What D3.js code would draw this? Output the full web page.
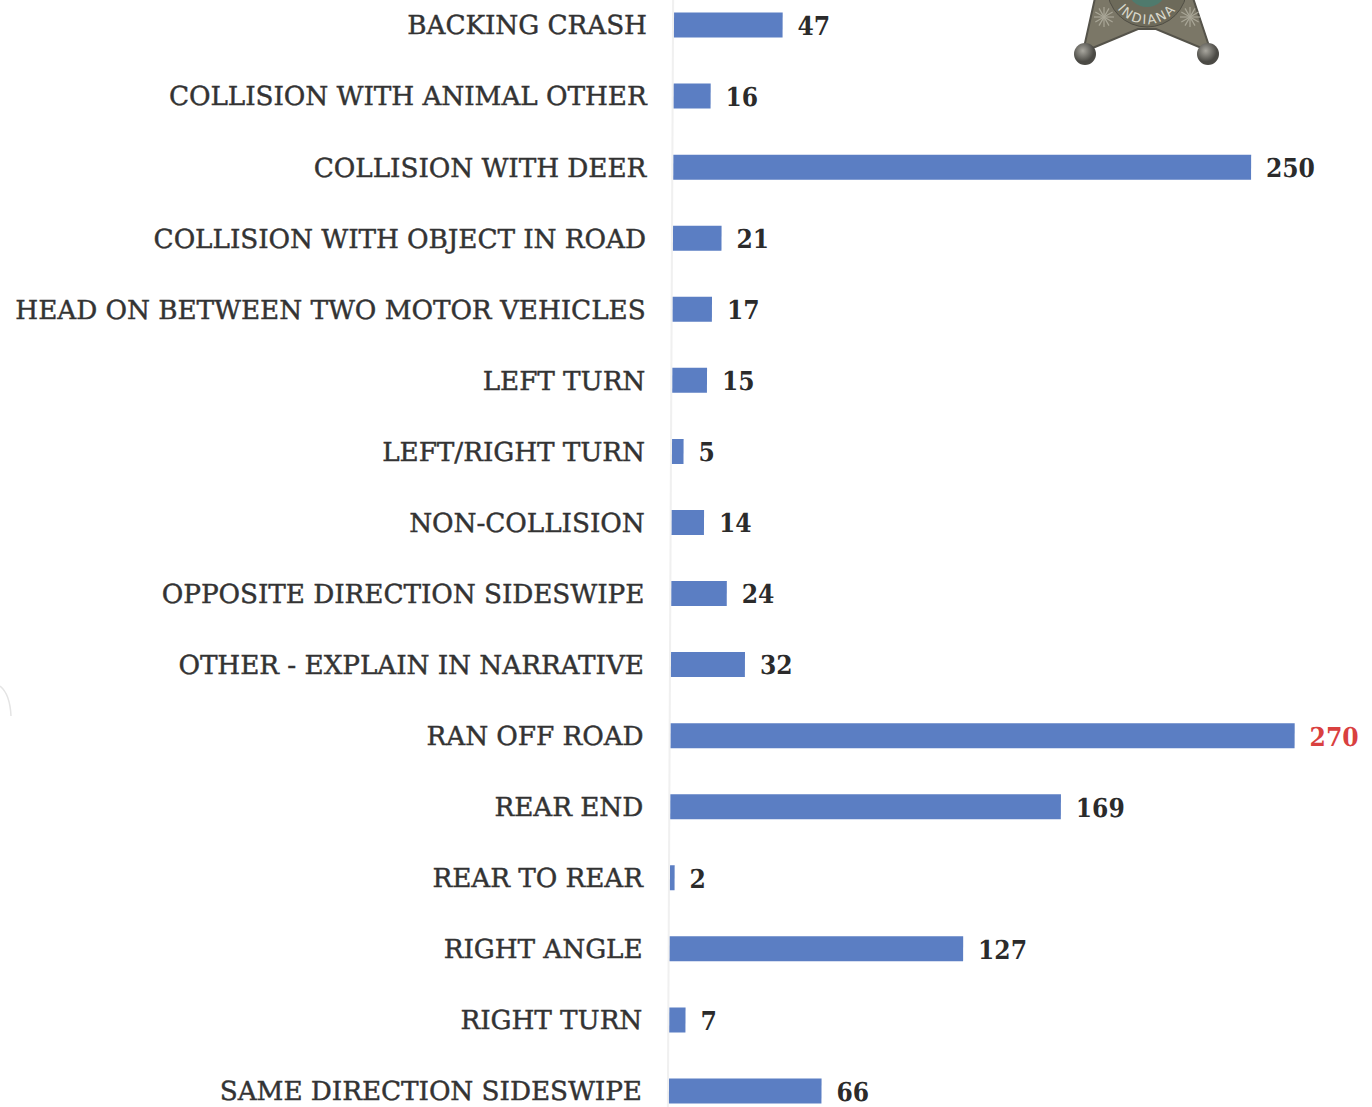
<!DOCTYPE html>
<html>
<head>
<meta charset="utf-8">
<script src="https://cdn.jsdelivr.net/npm/d3@7"></script>
<style>
  html, body { margin: 0; padding: 0; background: #fff; overflow: hidden; }
  .cat text { font-family: "DejaVu Serif", serif; font-size: 26.2px; fill: #333; stroke: #333; stroke-width: 0.45px; }
  .val { font-family: "DejaVu Serif Condensed", "DejaVu Serif", serif; font-weight: bold; font-size: 26px; fill: #2b2b2b; }
</style>
</head>
<body>
<div id="chart"></div>
<script>
const width = 1372;
const height = 1107;

const categories = ['BACKING CRASH', 'COLLISION WITH ANIMAL OTHER', 'COLLISION WITH DEER',
  'COLLISION WITH OBJECT IN ROAD', 'HEAD ON BETWEEN TWO MOTOR VEHICLES', 'LEFT TURN',
  'LEFT/RIGHT TURN', 'NON-COLLISION', 'OPPOSITE DIRECTION SIDESWIPE',
  'OTHER - EXPLAIN IN NARRATIVE', 'RAN OFF ROAD', 'REAR END', 'REAR TO REAR',
  'RIGHT ANGLE', 'RIGHT TURN', 'SAME DIRECTION SIDESWIPE'];
const values = [47, 16, 250, 21, 17, 15, 5, 14, 24, 32, 270, 169, 2, 127, 7, 66];

const color_bar = '#5b7ec3';
const color_max = '#d9403f';

const svg = d3.select('#chart').append('svg')
  .attr('width', width)
  .attr('height', height);

// the scan is a little crooked: rows drift left going down but stay level
const plot = svg.append('g')
  .attr('transform', 'translate(674,25) skewX(-0.27)');

const x = d3.scaleLinear().domain([0, 270]).range([0, 624]);
const y = d3.scalePoint().domain(categories).range([0, 1066]);

plot.append('line')
  .attr('x1', -1).attr('x2', -1)
  .attr('y1', -25).attr('y2', 1090)
  .attr('stroke', '#f0f0f0')
  .attr('stroke-width', 2);

const axis = plot.append('g')
  .attr('class', 'cat')
  .call(d3.axisLeft(y).tickSize(0).tickPadding(27));
axis.select('.domain').remove();
axis.selectAll('text').attr('dy', '0.34em');

plot.selectAll('rect.bar')
  .data(values)
  .enter()
  .append('rect')
  .attr('class', 'bar')
  .attr('x', 0)
  .attr('y', (d, i) => y(categories[i]) - 12.5)
  .attr('width', d => x(d))
  .attr('height', 25)
  .attr('fill', color_bar);

plot.selectAll('text.val')
  .data(values)
  .enter()
  .append('text')
  .attr('class', 'val')
  .attr('x', d => x(d) + 15)
  .attr('y', (d, i) => y(categories[i]))
  .attr('dy', '0.38em')
  .style('fill', d => d === d3.max(values) ? color_max : null)
  .text(d => d);

// faint scan mark on the left edge
svg.append('path')
  .attr('d', 'M0,686 Q10,694 11,716')
  .attr('fill', 'none')
  .attr('stroke', '#e4e4e4')
  .attr('stroke-width', 1.5);

// sheriff badge, only the bottom of it is on the page
const defs = svg.append('defs');
const ball = defs.append('radialGradient').attr('id', 'ball').attr('cx', '40%').attr('cy', '35%');
ball.append('stop').attr('offset', '0%').attr('stop-color', '#a9a79f');
ball.append('stop').attr('offset', '100%').attr('stop-color', '#4b4a45');

const badge = svg.append('g').attr('transform', 'translate(1147,0)');
badge.append('path')
  .attr('d', 'M-52,-2 L-64,52 L-9,29 L9,29 L64,52 L46,-2 Z')
  .attr('fill', '#7b7767')
  .attr('stroke', '#55534a')
  .attr('stroke-width', 2);
// engraved rays on the two legs
[[-43, 17], [43, 17]].forEach(function(c) {
  d3.range(0, 180, 30).forEach(function(a) {
    badge.append('line')
      .attr('x1', c[0] - 10 * Math.cos(a * Math.PI / 180))
      .attr('y1', c[1] - 10 * Math.sin(a * Math.PI / 180))
      .attr('x2', c[0] + 10 * Math.cos(a * Math.PI / 180))
      .attr('y2', c[1] + 10 * Math.sin(a * Math.PI / 180))
      .attr('stroke', '#a9a697')
      .attr('stroke-width', 1.2);
  });
});
badge.append('circle')
  .attr('cx', 0).attr('cy', -13).attr('r', 40)
  .attr('fill', '#6d6a5a')
  .attr('stroke', '#4f4d44');
badge.append('circle')
  .attr('cx', 0).attr('cy', -13).attr('r', 20)
  .attr('fill', '#4f7a6d');
defs.append('path')
  .attr('id', 'ring')
  .attr('d', 'M-37,-13 A37,37 0 0 0 37,-13');
badge.append('text')
  .attr('font-family', 'DejaVu Sans')
  .attr('font-size', 13)
  .attr('letter-spacing', 2)
  .attr('fill', '#d9d8cc')
  .append('textPath')
  .attr('href', '#ring')
  .attr('startOffset', '50%')
  .attr('text-anchor', 'middle')
  .text('INDIANA');
badge.selectAll('circle.ball')
  .data([-62, 61])
  .enter()
  .append('circle')
  .attr('class', 'ball')
  .attr('cx', d => d)
  .attr('cy', 54)
  .attr('r', 11)
  .attr('fill', 'url(#ball)');
</script>
</body>
</html>
